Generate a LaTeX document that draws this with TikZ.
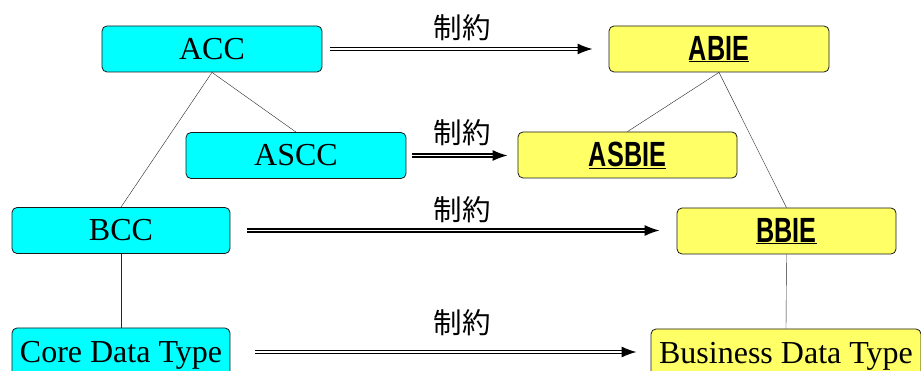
\documentclass[tikz,border=0pt]{standalone}
\usepackage{fontspec}
\setmainfont{Liberation Serif}
\newfontfamily\cjk{Noto Sans CJK JP}
\newfontfamily\biefont[FakeStretch=0.72]{Liberation Sans}
\usetikzlibrary{arrows.meta}
\definecolor{ccfill}{RGB}{0,255,255}
\definecolor{biefill}{RGB}{255,255,102}
\tikzset{
	ccbox/.style={draw=black!90,line width=0.8pt,fill=ccfill,rounded corners=5pt,minimum width=220pt,minimum height=46pt,inner sep=0pt,font=\fontsize{32}{36}\selectfont},
	biebox/.style={ccbox,fill=biefill},
	bielabel/.style={font=\fontsize{35}{40}\selectfont\biefont\bfseries},
	restrict/.style={double=white,draw=black,line width=1.3pt,double distance=1.6pt,-{Latex[length=15pt,width=11pt]}},
	restrictlabel/.style={font=\fontsize{28.5}{32}\selectfont\cjk}
}
\begin{document}
\begin{tikzpicture}[x=1pt,y=-1pt]
		\useasboundingbox (0,0) rectangle (921,371);
		% core components
		\node[ccbox] (acc) at (212,49) {ACC};
		\node[ccbox] (ascc) at (296,155.5) {ASCC};
		\node[ccbox,minimum width=218pt] (bcc) at (121,230.5) {BCC};
		\node[ccbox,minimum width=218pt,minimum height=54pt] (cdt) at (121,355) {Core Data Type};
		% business information entities
		\node[biebox,bielabel] (abie) at (719,49) {\underline{ABIE}};
		\node[biebox,bielabel,minimum width=219pt] (asbie) at (627.5,155) {\underline{ASBIE}};
		\node[biebox,bielabel,minimum width=219pt] (bbie) at (786.5,231) {\underline{BBIE}};
		\node[biebox,minimum width=270pt,minimum height=54pt] (bdt) at (786,356) {Business Data Type};
		% tree
		\draw[black!85] (acc.south) -- (ascc.north);
		\draw[black!85] (acc.south) -- (bcc.north);
		\draw[black!85] (bcc.south) -- (cdt.north);
		\draw[black!85] (abie.south) -- (asbie.north);
		\draw[black!85] (abie.south) -- (bbie.north);
		\draw[black!85] (bbie.south) -- (bdt.north);
		% restrictions
		\draw[restrict,shorten <=8pt,shorten >=16pt] (acc.east) -- (abie.west);
		\draw[restrict,shorten <=6pt,shorten >=10pt] (ascc.east) -- (ascc.east -| asbie.west);
		\draw[restrict,shorten <=17pt,shorten >=17pt] (bcc.east) -- (bcc.east -| bbie.west);
		\draw[restrict,shorten <=25pt,shorten >=14pt] ([yshift=3pt]cdt.east) -- ([yshift=3pt]cdt.east -| bdt.west);
		\node[restrictlabel] (r1) at (462,28) {制約};
		\node[restrictlabel] (r2) at (462,133) {制約};
		\node[restrictlabel] (r3) at (462,210) {制約};
		\node[restrictlabel] (r4) at (462,323) {制約};
	\end{tikzpicture}
\end{document}
